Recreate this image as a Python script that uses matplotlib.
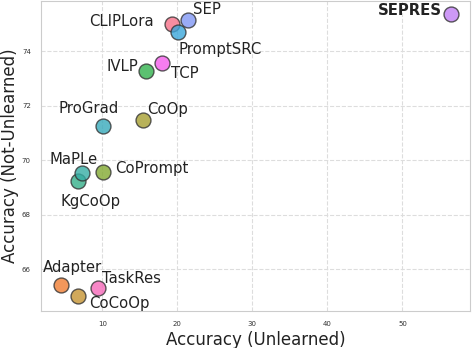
import matplotlib
matplotlib.use("Agg")
import matplotlib.pyplot as plt
import seaborn as sns

methods = ["CLIPLora", "Adapter", "CoCoOp", "CoOp", "CoPrompt", "IVLP", "KgCoOp",
           "MaPLe", "ProGrad", "PromptSRC", "SEP", "SEPRES", "TCP", "TaskRes"]
acc_unlearned = [19.25, 4.45, 6.72, 15.39, 10.13, 15.83, 6.8,
                 7.33, 10.05, 20.13, 21.47, 56.45, 18.0, 9.39]
acc_not_unlearned = [75.0, 65.4, 65.0, 71.48, 69.57, 73.29, 69.22,
                     69.52, 71.26, 74.7, 75.15, 75.37, 73.56, 65.31]

# label placement: (dx px, dy px to baseline, ha)
label_pos = {
    "CLIPLora": (-17.7, -1.7, "right"),
    "Adapter": (12, 13, "center"),
    "CoCoOp": (11.6, -11.6, "left"),
    "CoOp": (4, 5.7, "left"),
    "CoPrompt": (11.7, -1.3, "left"),
    "IVLP": (-8.3, -0.7, "right"),
    "KgCoOp": (12, -24.4, "center"),
    "MaPLe": (-9, 9, "center"),
    "ProGrad": (-14.4, 12.7, "center"),
    "PromptSRC": (0, -21.7, "left"),
    "SEP": (4.7, 6, "left"),
    "SEPRES": (-9, -1, "right"),
    "TCP": (8.7, -14.7, "left"),
    "TaskRes": (4, 5, "left"),
}

sns.set_style("whitegrid", {"grid.linestyle": "--", "axes.edgecolor": "#cccccc"})
plt.rcParams["font.family"] = ["DejaVu Sans"]

colors = sns.husl_palette(len(methods), h=0.01, s=0.9, l=0.65)

fig = plt.figure(figsize=(4.72, 3.48), dpi=100)
ax = fig.add_axes([41.3 / 472, 1 - 310.5 / 348, (470 - 41.3) / 472, (310.5 - 1) / 348])

for i, m in enumerate(methods):
    ax.scatter(acc_unlearned[i], acc_not_unlearned[i], s=115, color=colors[i],
               edgecolor="#333333", linewidth=1, alpha=0.8, zorder=3)
    dx, dy, ha = label_pos[m]
    ax.annotate(m, (acc_unlearned[i], acc_not_unlearned[i]), xytext=(dx, dy),
                textcoords="offset pixels", ha=ha, va="baseline",
                fontsize=10.7,
                fontweight="bold" if m == "SEPRES" else "normal",
                color="#222222", zorder=4)

ax.set_xlim(1.87, 59.0)
ax.set_ylim(64.48, 75.85)
ax.set_xticks([10, 20, 30, 40, 50])
ax.set_yticks([66, 68, 70, 72, 74])
ax.tick_params(labelsize=5, colors="#333333", pad=4)
ax.grid(True, linestyle="--", color="#dddddd", linewidth=0.8)
ax.set_xlabel("Accuracy (Unlearned)", fontsize=12, color="#222222", labelpad=3)
ax.set_ylabel("Accuracy (Not-Unlearned)", fontsize=12, color="#222222", labelpad=2)

plt.savefig("out.png", dpi=100)
plt.close()
